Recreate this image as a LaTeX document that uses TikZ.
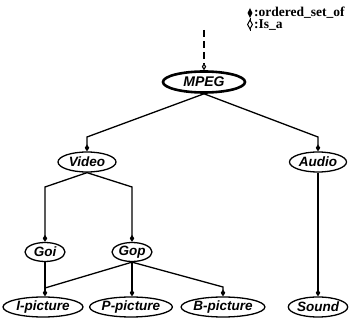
\documentclass[tikz,border=0pt]{standalone}
\usepackage{fontspec}
\setmainfont{Liberation Serif}
\setsansfont{Liberation Sans}
\usetikzlibrary{shapes.geometric,arrows.meta}
\tikzset{
  ent/.style={ellipse,draw,line width=1.3pt,inner sep=0pt,minimum height=20pt,
    font=\sffamily\bfseries\itshape\fontsize{13.5}{13.5}\selectfont},
  rel/.style={line width=1.3pt},
  part/.style={rel,-{Diamond[length=7pt,width=4.5pt]}},
  isa/.style={line width=1.1pt,dash pattern=on 7pt off 4pt,-{Diamond[open,length=7pt,width=4.5pt]}},
  legend/.style={anchor=west,inner sep=0pt,font=\bfseries\fontsize{13.5}{13.5}\selectfont}
}
\begin{document}
\begin{tikzpicture}[x=1pt,y=-1pt]
\useasboundingbox (0,0) rectangle (349,323);
% nodes
\node[ent,line width=2.6pt,minimum width=82pt,minimum height=21pt,font=\sffamily\bfseries\itshape\fontsize{14}{14}\selectfont] (mpeg) at (204,82) {MPEG};
\node[ent,minimum width=58pt] (video) at (87,162) {Video};
\node[ent,minimum width=57pt] (audio) at (318,162) {Audio};
\node[ent,minimum width=40pt,minimum height=19pt] (goi) at (45,252) {Goi};
\node[ent,minimum width=40pt,minimum height=19pt] (gop) at (132,252) {Gop};
\node[ent,minimum width=80pt] (ipic) at (43,307) {I-picture};
\node[ent,minimum width=80pt] (ppic) at (131,307) {P-picture};
\node[ent,minimum width=80pt] (bpic) at (223,307) {B-picture};
\node[ent,minimum width=56pt] (sound) at (318,307) {Sound};
\coordinate (top) at (204,30);
% connectors
\draw[isa] (top) -- (mpeg.north);
\draw[part] (mpeg.south) -- (video.north |- 0,137) -- (video.north);
\draw[part] (mpeg.south) -- (audio.north |- 0,137) -- (audio.north);
\draw[part] (video.south) -- (goi.north |- 0,187) -- (goi.north);
\draw[part] (video.south) -- (gop.north |- 0,187) -- (gop.north);
\draw[part] (goi.south) -- (goi.south |- ipic.north);
\draw[rel] (gop.south) -- (goi.south |- 0,288);
\draw[part] (gop.south) -- (gop.south |- ppic.north);
\draw[part] (gop.south) -- (bpic.north |- 0,287) -- (bpic.north);
\draw[part] (audio.south) -- (sound.north);
% legend
\fill (250,8) -- (252.4,13) -- (250,18) -- (247.6,13) -- cycle;
\node[legend] (l1) at (254,13) {:ordered\_set\_of};
\draw[line width=1pt] (250,18.5) -- (250,31);
\draw[line width=1pt,fill=white] (250,20) -- (252.4,24.5) -- (250,29) -- (247.6,24.5) -- cycle;
\node[legend] (l2) at (254,25.5) {:Is\_a};
\end{tikzpicture}
\end{document}
